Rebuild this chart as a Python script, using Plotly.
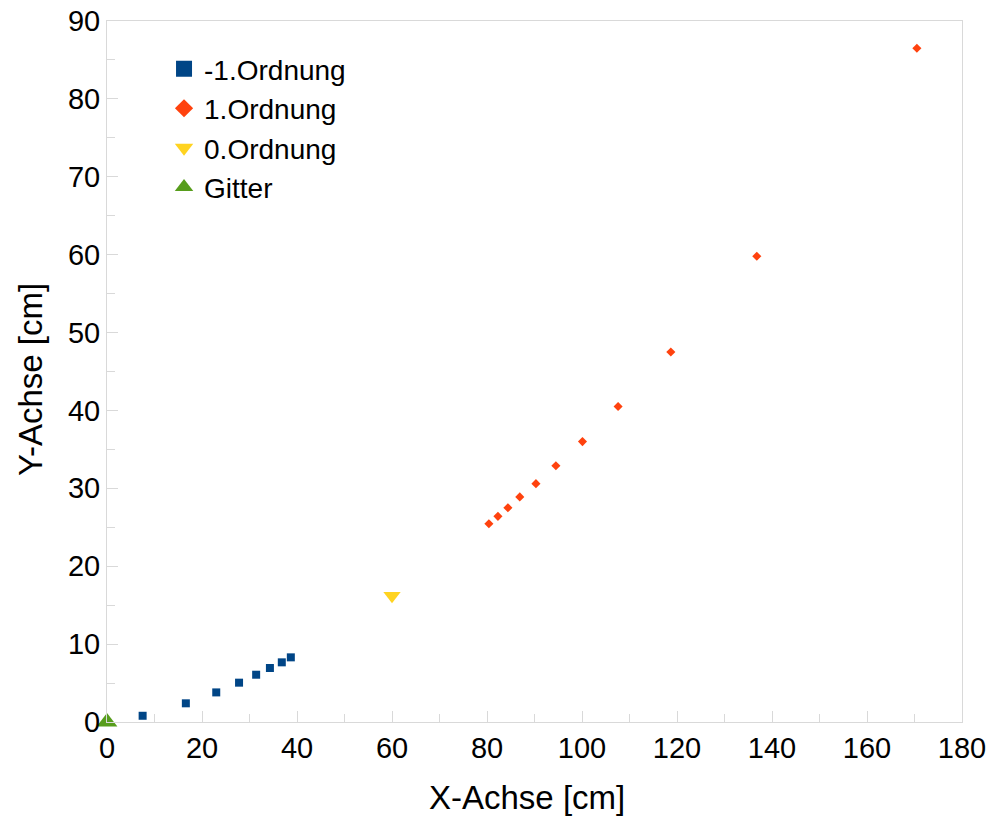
import plotly.graph_objects as go

# -1.Ordnung
neg1_x = [7.5, 16.6, 23.0, 27.8, 31.4, 34.3, 36.8, 38.7]
neg1_y = [0.8, 2.4, 3.8, 5.05, 6.07, 6.93, 7.66, 8.3]
# 1.Ordnung
pos1_x = [80.4, 82.3, 84.4, 86.9, 90.3, 94.5, 100.1, 107.6, 118.7, 136.8, 170.5]
pos1_y = [25.45, 26.4, 27.5, 28.9, 30.6, 32.9, 36.0, 40.5, 47.5, 59.8, 86.5]
# 0.Ordnung
zero_x = [60.0]
zero_y = [16.2]
# Gitter
git_x = [0.0]
git_y = [0.0]

names = ["-1.Ordnung", "1.Ordnung", "0.Ordnung", "Gitter"]
colors = ["#004586", "#ff420e", "#ffd320", "#579d1c"]
symbols = ["square", "diamond", "triangle-down", "triangle-up"]
sizes = [8, 7, 15, 18]
legend_sizes = [16, 14, 16, 16]

fig = go.Figure()
data = [(neg1_x, neg1_y), (pos1_x, pos1_y), (zero_x, zero_y), (git_x, git_y)]
for (xs, ys), n, c, s, sz in zip(data, names, colors, symbols, sizes):
    fig.add_trace(go.Scatter(x=xs, y=ys, mode="markers", name=n, showlegend=False,
                             cliponaxis=False,
                             marker=dict(color=c, symbol=s, size=sz, line=dict(width=0))))
for n, c, s, sz in zip(names, colors, symbols, legend_sizes):
    fig.add_trace(go.Scatter(x=[None], y=[None], mode="markers", name=n,
                             marker=dict(color=c, symbol=s, size=sz, line=dict(width=0))))

axis_common = dict(
    showgrid=False, zeroline=False, showline=True, linecolor="#d9d9d9", linewidth=1,
    mirror=True, ticks="inside", ticklen=11, tickcolor="#d9d9d9", tickwidth=1,
    tickfont=dict(size=29, color="black"), automargin=False,
    ticklabeloverflow="allow",
)
fig.update_xaxes(range=[0, 180], dtick=20, tick0=0,
                 minor=dict(dtick=10, ticks="inside", ticklen=8, tickcolor="#d9d9d9"),
                 **axis_common)
fig.update_yaxes(range=[0, 90], dtick=10, tick0=0,
                 minor=dict(dtick=5, ticks="inside", ticklen=8, tickcolor="#d9d9d9"),
                 **axis_common)

# plot area: x 107..962, y 21..722 (page pixels)
fig.add_annotation(text="X-Achse [cm]", xref="paper", yref="paper",
                   x=(527 - 107) / 855, y=-(797 - 722) / 701,
                   xanchor="center", yanchor="middle", showarrow=False,
                   font=dict(size=33, color="black"))
fig.add_annotation(text="Y-Achse [cm]", xref="paper", yref="paper",
                   x=(30 - 107) / 855, y=1 - (380 - 21) / 701, textangle=-90,
                   xanchor="center", yanchor="middle", showarrow=False,
                   font=dict(size=33, color="black"))

fig.update_layout(
    width=990, height=816,
    margin=dict(l=107, r=28, t=21, b=94),
    paper_bgcolor="white", plot_bgcolor="white",
    font=dict(family="Liberation Sans, Arial, sans-serif", color="black"),
    legend=dict(x=0.0667, y=0.967, xanchor="left", yanchor="top",
                font=dict(size=28, color="black"), bgcolor="rgba(0,0,0,0)",
                itemsizing="trace"),
)
fig.write_html("out.html", config={"displayModeBar": False},
               post_script="document.body.style.margin='0';document.body.style.overflow='hidden';")
